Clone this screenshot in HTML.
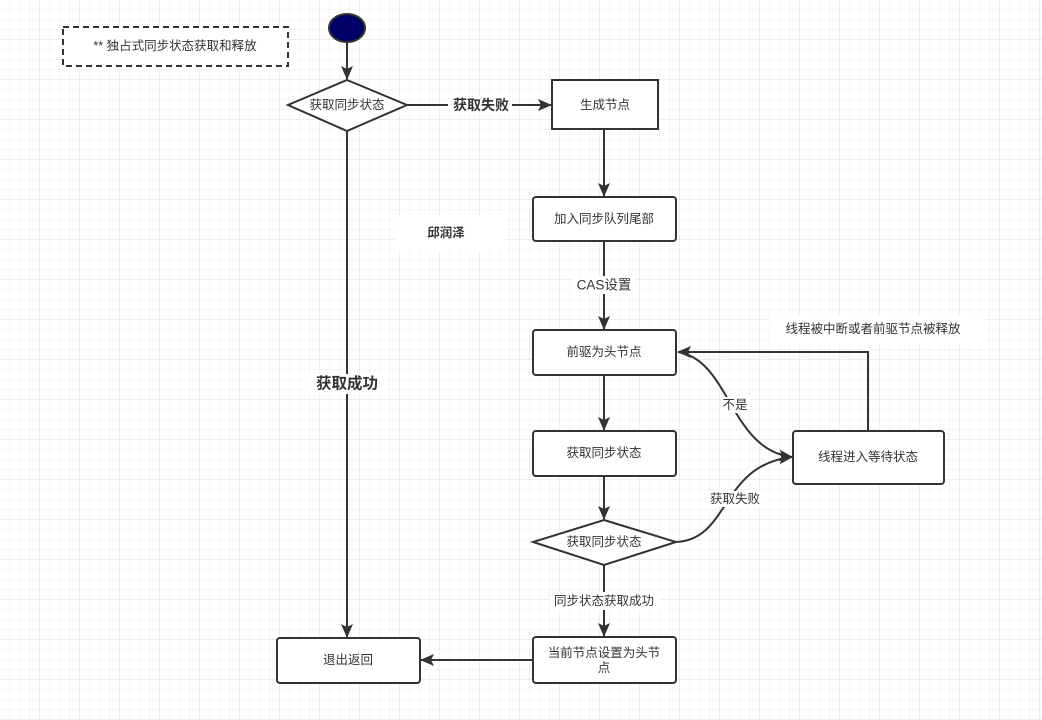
<!DOCTYPE html>
<html><head><meta charset="utf-8"><style>
body{margin:0;background:#fff}
svg{display:block}
text{font-family:"Liberation Sans","Noto Sans CJK SC",sans-serif;fill:#333;font-size:12.5px;text-anchor:middle;dominant-baseline:central}
</style></head><body>
<svg width="1042" height="720" viewBox="0 0 1042 720" xmlns="http://www.w3.org/2000/svg">
<defs>
<pattern id="g" width="10" height="10" patternUnits="userSpaceOnUse"><path d="M10 0V10H0" fill="none" stroke="#ebebeb" stroke-width="1"/></pattern>
<pattern id="G" width="40" height="40" patternUnits="userSpaceOnUse"><rect width="40" height="40" fill="url(#g)"/><path d="M40 0V40H0" fill="none" stroke="#dcdcdc" stroke-width="1"/></pattern>
<marker id="a" markerWidth="14" markerHeight="12" refX="13" refY="6" orient="auto" markerUnits="userSpaceOnUse"><path d="M0 0L14 6L0 12L3 6Z" fill="#333"/></marker>
</defs>
<rect width="1042" height="720" fill="url(#G)"/>
<g stroke="#333" stroke-width="2" fill="#fff">
<rect x="63" y="27" width="225" height="39" stroke-dasharray="6 4"/>
<ellipse cx="347" cy="28" rx="18" ry="14" fill="#000066"/>
<path d="M347 42V79" marker-end="url(#a)" fill="none"/>
<path d="M347 80L407 105L347 131L288 105Z"/>
<path d="M407 105H551" marker-end="url(#a)" fill="none"/>
<rect x="552" y="80" width="106" height="49"/>
<path d="M604 129V196" marker-end="url(#a)" fill="none"/>
<rect x="533" y="197" width="143" height="44" rx="3"/>
<path d="M604 241V329" marker-end="url(#a)" fill="none"/>
<rect x="533" y="330" width="143" height="45" rx="3"/>
<path d="M604 375V430" marker-end="url(#a)" fill="none"/>
<rect x="533" y="431" width="143" height="45" rx="3"/>
<path d="M604 476V519" marker-end="url(#a)" fill="none"/>
<path d="M604 520L676 542L604 565L533 542Z"/>
<path d="M604 565V636" marker-end="url(#a)" fill="none"/>
<rect x="533" y="637" width="143" height="46" rx="3"/>
<path d="M533 660H421" marker-end="url(#a)" fill="none"/>
<rect x="277" y="638" width="143" height="45" rx="3"/>
<path d="M347 131V637" marker-end="url(#a)" fill="none"/>
<rect x="793" y="431" width="151" height="53" rx="3"/>
<path d="M868 431V352H678" marker-end="url(#a)" fill="none"/>
<path d="M678 352C730 360 730 450 792 457" marker-end="url(#a)" fill="none"/>
<path d="M676 542C730 540 720 465 792 457" marker-end="url(#a)" fill="none"/>
</g>
<rect x="395" y="215" width="110" height="36" fill="#fff"/>
<rect x="770" y="315" width="215" height="30" fill="#fff"/>
<text x="175" y="46">** 独占式同步状态获取和释放</text>
<text x="347" y="105">获取同步状态</text>
<rect x="448" y="96" width="64" height="18" fill="#fff"/>
<text x="481" y="105" style="font-size:14px;font-weight:bold">获取失败</text>
<text x="605" y="105">生成节点</text>
<text x="604" y="219">加入同步队列尾部</text>
<text x="446" y="233" style="font-weight:bold">邱润泽</text>
<rect x="572" y="276" width="64" height="18" fill="#fff"/>
<text x="604" y="285" style="font-size:13.5px">CAS设置</text>
<text x="604" y="352">前驱为头节点</text>
<text x="604" y="453">获取同步状态</text>
<text x="604" y="542">获取同步状态</text>
<rect x="550" y="592" width="110" height="18" fill="#fff"/>
<text x="604" y="601">同步状态获取成功</text>
<text x="604" y="653">当前节点设置为头节</text>
<text x="604" y="668">点</text>
<text x="348" y="660">退出返回</text>
<rect x="308" y="374" width="78" height="20" fill="#fff"/>
<text x="347" y="384" style="font-size:15.5px;font-weight:bold">获取成功</text>
<text x="868" y="457">线程进入等待状态</text>
<text x="873" y="329">线程被中断或者前驱节点被释放</text>
<rect x="720" y="397" width="30" height="16" fill="#fff"/>
<text x="735" y="405">不是</text>
<rect x="706" y="491" width="58" height="16" fill="#fff"/>
<text x="735" y="499">获取失败</text>
</svg>
</body></html>
